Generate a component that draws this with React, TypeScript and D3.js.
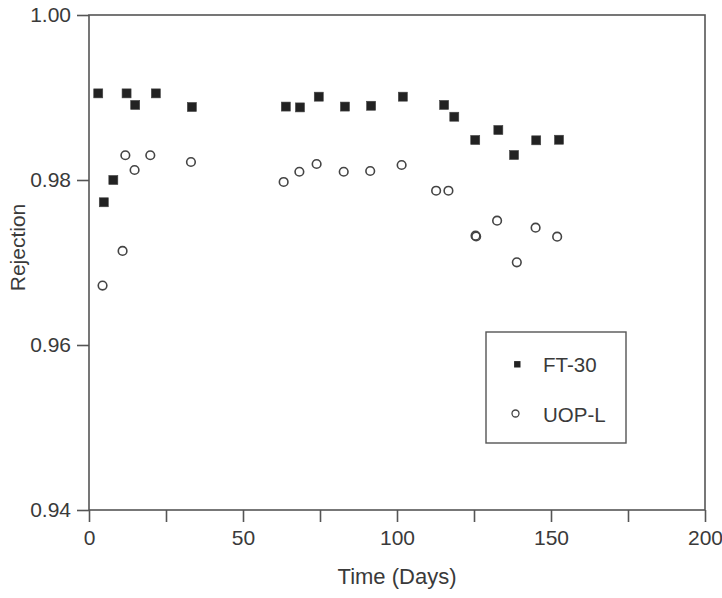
import React, { useEffect, useRef } from "react";
import * as d3 from "d3";

// FT-30 (filled squares)
const ft30Days = [3.0, 4.8, 7.9, 12.2, 15.0, 21.7, 33.4, 63.9, 68.5, 74.6, 83.1, 91.6, 101.9, 115.3, 118.6, 125.4, 132.9, 138.0, 145.2, 152.6];
const ft30Rej = [0.9905, 0.9773, 0.98, 0.9905, 0.9891, 0.9905, 0.98885, 0.9889, 0.9888, 0.9901, 0.9889, 0.989, 0.9901, 0.9891, 0.98767, 0.98485, 0.98606, 0.98303, 0.98481, 0.98488];

// UOP-L (open circles)
const uopDays = [4.4, 10.9, 11.8, 14.8, 19.9, 33.1, 63.2, 68.3, 73.9, 82.7, 91.3, 101.5, 112.7, 116.7, 125.5, 125.7, 132.5, 138.9, 145.0, 152.0];
const uopRej = [0.9672, 0.9714, 0.983, 0.98121, 0.983, 0.98218, 0.97976, 0.981, 0.98194, 0.981, 0.98109, 0.98182, 0.9787, 0.9787, 0.97325, 0.97315, 0.97507, 0.97002, 0.97422, 0.97313];

const xTicks = [0, 25, 50, 75, 100, 125, 150, 175, 200];
const yTicks = [0.94, 0.96, 0.98, 1.0];
const seriesNames = ["FT-30", "UOP-L"];

const W = 722;
const H = 598;
const margin = { top: 15, right: 17, bottom: 88, left: 89 };
const font = "'Liberation Sans', Arial, Helvetica, sans-serif";

export default function App() {
  const ref = useRef<SVGSVGElement>(null);

  useEffect(() => {
    const svg = d3.select(ref.current);
    svg.selectAll("*").remove();

    const x = d3.scaleLinear().domain([0, 200]).range([margin.left, W - margin.right]);
    const y = d3.scaleLinear().domain([0.94, 1.0]).range([H - margin.bottom, margin.top]);

    const axisColor = "#555";
    const textColor = "#3a3a3a";

    // frame
    svg.append("rect")
      .attr("x", x(0)).attr("y", y(1.0))
      .attr("width", x(200) - x(0)).attr("height", y(0.94) - y(1.0))
      .attr("fill", "none").attr("stroke", axisColor).attr("stroke-width", 1.6);

    const gx = svg.append("g")
      .attr("transform", `translate(0,${y(0.94)})`)
      .call(d3.axisBottom(x).tickValues(xTicks).tickSize(12).tickSizeOuter(0).tickPadding(8)
        .tickFormat((d) => (+d % 50 === 0 ? String(d) : "")));
    const gy = svg.append("g")
      .attr("transform", `translate(${x(0)},0)`)
      .call(d3.axisLeft(y).tickValues(yTicks).tickSize(12).tickSizeOuter(0).tickPadding(6)
        .tickFormat(d3.format(".2f")));

    [gx, gy].forEach((g) => {
      g.select(".domain").remove();
      g.selectAll("line").attr("stroke", axisColor).attr("stroke-width", 1.6);
      g.selectAll("text").attr("fill", textColor).attr("font-size", 21).attr("font-family", font);
    });

    // axis titles
    svg.append("text")
      .attr("x", (x(0) + x(200)) / 2).attr("y", 584)
      .attr("text-anchor", "middle").attr("font-size", 22).attr("font-family", font)
      .attr("fill", textColor).text("Time (Days)");
    svg.append("text")
      .attr("transform", `translate(25,${(y(1.0) + y(0.94)) / 2 - 15}) rotate(-90)`)
      .attr("text-anchor", "middle").attr("font-size", 21).attr("font-family", font)
      .attr("fill", textColor).text("Rejection");

    // FT-30 squares
    const sq = 9;
    svg.append("g").selectAll("rect")
      .data(d3.zip(ft30Days, ft30Rej))
      .join("rect")
      .attr("x", (d) => x(d[0]) - sq / 2)
      .attr("y", (d) => y(d[1]) - sq / 2)
      .attr("width", sq).attr("height", sq)
      .attr("fill", "#222").attr("stroke", "#444").attr("stroke-width", 0.6);

    // UOP-L circles
    svg.append("g").selectAll("circle")
      .data(d3.zip(uopDays, uopRej))
      .join("circle")
      .attr("cx", (d) => x(d[0]))
      .attr("cy", (d) => y(d[1]))
      .attr("r", 4.3)
      .attr("fill", "none").attr("stroke", "#444").attr("stroke-width", 1.6);

    // legend
    const lg = svg.append("g");
    lg.append("rect")
      .attr("x", 486).attr("y", 332).attr("width", 140).attr("height", 111)
      .attr("fill", "white").attr("stroke", axisColor).attr("stroke-width", 1.4);
    lg.append("rect")
      .attr("x", 517.3 - 3.2).attr("y", 364.3 - 3.2).attr("width", 6.4).attr("height", 6.4)
      .attr("fill", "#222");
    lg.append("circle")
      .attr("cx", 515.5).attr("cy", 413.5).attr("r", 3.5)
      .attr("fill", "none").attr("stroke", "#444").attr("stroke-width", 1.3);
    lg.selectAll("text.lab")
      .data(seriesNames)
      .join("text")
      .attr("class", "lab")
      .attr("x", 543).attr("y", (d, i) => 372 + i * 49.5)
      .attr("font-size", 20.5).attr("font-family", font).attr("fill", textColor)
      .text((d) => d);
  }, []);

  return (
    <svg
      ref={ref}
      width={W}
      height={H}
      style={{ position: "absolute", left: 0, top: 0, background: "white" }}
    />
  );
}
